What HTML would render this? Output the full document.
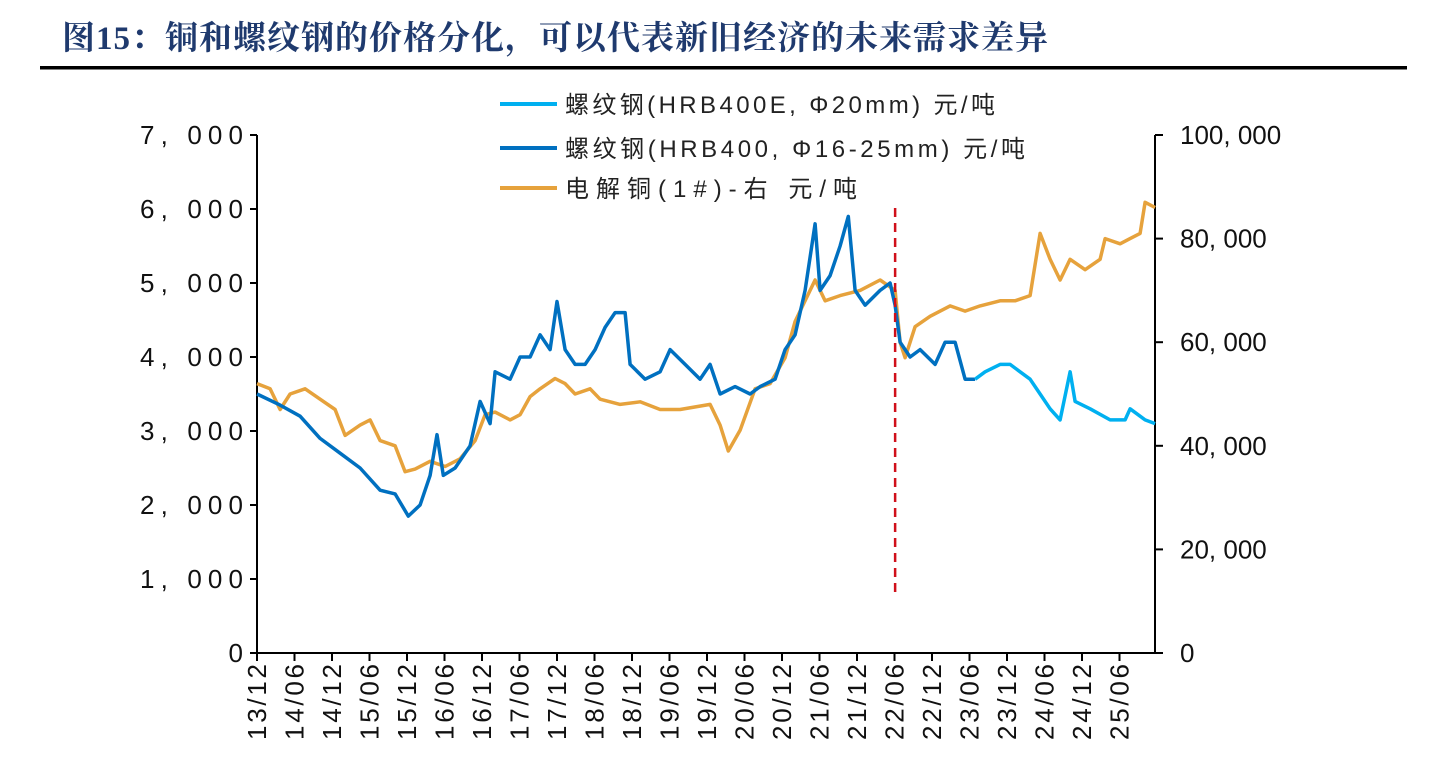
<!DOCTYPE html>
<html><head><meta charset="utf-8"><style>
body{margin:0;background:#fff;width:1442px;height:757px;overflow:hidden;font-family:"Liberation Sans","Noto Sans CJK SC",sans-serif}
</style></head><body>
<svg id="c" width="1442" height="757" xmlns="http://www.w3.org/2000/svg">
<text x="62" y="49" font-size="33" font-weight="bold" fill="#1f3a6e" letter-spacing="1" font-family="'Liberation Serif','Noto Serif CJK SC',serif">图15：铜和螺纹钢的价格分化，可以代表新旧经济的未来需求差异</text>
<rect x="40" y="66" width="1367" height="3.5" fill="#000"/>
<g id="axes"></g>
<g id="series"></g>
<g font-size="24" fill="#222">
<line x1="500" y1="104" x2="557" y2="104" stroke="#00b0f0" stroke-width="4"/>
<text x="565" y="113" textLength="430">螺纹钢(HRB400E, Φ20mm) 元/吨</text>
<line x1="500" y1="148" x2="557" y2="148" stroke="#0070c0" stroke-width="4"/>
<text x="565" y="157" textLength="460">螺纹钢(HRB400, Φ16-25mm) 元/吨</text>
<line x1="500" y1="188" x2="557" y2="188" stroke="#e6a23c" stroke-width="4"/>
<text x="565" y="197" textLength="292">电解铜(1#)-右 元/吨</text>
</g>
</svg>
<script>
const xTickLabels=["13/12","14/06","14/12","15/06","15/12","16/06","16/12","17/06","17/12","18/06","18/12","19/06","19/12","20/06","20/12","21/06","21/12","22/06","22/12","23/06","23/12","24/06","24/12","25/06"];
const leftTicks=[0,1000,2000,3000,4000,5000,6000,7000];
const rightTicks=[0,20000,40000,60000,80000,100000];
// months since 2013-12
const rebarT=[0,3.7,6.9,10.1,13.3,16.5,19.7,22.1,24.2,26.1,27.7,28.8,29.8,31.7,34.1,35.7,37.3,38.1,40.5,42.1,43.7,45.3,46.9,48,49.3,50.9,52.5,54.1,55.7,57.3,58.9,59.7,62.1,64.5,66.1,68.5,70.9,72.5,74.1,76.5,78.9,80.5,82.9,84.5,86.1,87.7,89.3,90.1,91.7,93.3,94.6,95.7,97.3,99.7,101.3,102.1,102.9,104.5,106.1,108.5,110.1,111.7,113.3,114.9];
const rebarV=[3500,3350,3200,2900,2700,2500,2200,2150,1850,2000,2400,2950,2400,2500,2800,3400,3100,3800,3700,4000,4000,4300,4100,4750,4100,3900,3900,4100,4400,4600,4600,3900,3700,3800,4100,3900,3700,3900,3500,3600,3500,3600,3700,4100,4300,4900,5800,4900,5100,5500,5900,4900,4700,4900,5000,4700,4200,4000,4100,3900,4200,4200,3700,3700];
const rebarET=[114.9,116.5,118.9,120.5,123.7,125.3,126.9,128.5,130.1,130.9,133.3,136.5,138.9,139.7,142.1,143.7];
const rebarEV=[3700,3800,3900,3900,3700,3500,3300,3150,3800,3400,3300,3150,3150,3300,3150,3100];
const copperT=[0,2.1,3.7,5.3,7.7,10.1,12.5,14.1,16.5,18.1,19.7,22.1,23.7,25.3,27.7,30.1,32.5,34.9,36.5,38.1,40.5,42.1,43.7,45.3,47.7,49.3,50.9,53.3,54.9,58.1,61.3,64.5,67.7,72.5,74.1,75.4,77.3,79.7,82.1,84.5,86.1,87.7,89.3,90.9,93.3,96.5,99.7,102.1,102.9,103.7,105.3,107.7,110.9,113.3,115.7,118.9,121.3,123.7,125.3,126.9,128.5,130.1,132.5,134.9,135.7,138.1,139.7,141.3,142.1,143.7];
const copperV=[52000,51000,47000,50000,51000,49000,47000,42000,44000,45000,41000,40000,35000,35500,37000,36000,37500,41000,46000,46500,45000,46000,49500,51000,53000,52000,50000,51000,49000,48000,48500,47000,47000,48000,44000,39000,43000,51000,52000,57000,64000,68000,72000,68000,69000,70000,72000,70000,60000,57000,63000,65000,67000,66000,67000,68000,68000,69000,81000,76000,72000,76000,74000,76000,80000,79000,80000,81000,87000,86000];
const dividerT=102.1;
const NS="http://www.w3.org/2000/svg";
const x0=257,x1=1155,yTop=135,yBot=653;
const xS=t=>x0+t*6.25;
const yL=v=>yBot-v/7000*(yBot-yTop);
const yR=v=>yBot-v/100000*(yBot-yTop);
function mk(tag,attrs,parent){const e=document.createElementNS(NS,tag);for(const k in attrs)e.setAttribute(k,attrs[k]);parent.appendChild(e);return e;}
const ax=document.getElementById('axes'), se=document.getElementById('series');
let l=mk('line',{x1:x0,y1:yTop,x2:x0,y2:yBot,stroke:'#000','stroke-width':2},ax);


l=mk('line',{x1:x1,y1:yTop,x2:x1,y2:yBot,stroke:'#000','stroke-width':2},ax);


l=mk('line',{x1:x0,y1:yBot,x2:x1,y2:yBot,stroke:'#000','stroke-width':2},ax);


const fmt=v=>v.toLocaleString('en-US').replace(',',', ');
leftTicks.forEach(v=>{const y=yL(v);
 const t=mk('line',{x1:x0-7,y1:y,x2:x0,y2:y,stroke:'#000','stroke-width':2},ax);
 
 
 const s=fmt(v);
 const a={x:243,y:y+9,'text-anchor':'end','font-size':26,fill:'#111'};
 if(s.length>3)a.textLength=103;
 const tx=mk('text',a,ax);
 tx.textContent=s;
 
 });
rightTicks.forEach(v=>{const y=yR(v);
 const t=mk('line',{x1:x1,y1:y,x2:x1+8,y2:y,stroke:'#000','stroke-width':2},ax);
 
 
 const tx=mk('text',{x:1180,y:y+9,'font-size':26,fill:'#111'},ax);
 tx.textContent=fmt(v);
 
 });
xTickLabels.forEach((s,i)=>{const x=xS(i*6);
 const t=mk('line',{x1:x,y1:yBot,x2:x,y2:yBot+8,stroke:'#000','stroke-width':2},ax);
 
 
 const tx=mk('text',{x:0,y:0,'text-anchor':'end','font-size':26,fill:'#111',textLength:76,transform:`translate(${x+9},${yBot+11}) rotate(-90)`},ax);
 tx.textContent=s;
 
 });
function line(T,V,ys,color,name){const p=T.map((t,i)=>xS(t).toFixed(1)+','+ys(V[i]).toFixed(1)).join(' ');
 const e=mk('polyline',{points:p,fill:'none',stroke:color,'stroke-width':3.5,'stroke-linejoin':'round'},se);
 
 }
line(copperT,copperV,yR,'#e6a23c','copper-line');
line(rebarT,rebarV,yL,'#0070c0','rebar-hrb400-line');
line(rebarET,rebarEV,yL,'#00b0f0','rebar-hrb400e-line');
const d=mk('line',{x1:xS(dividerT),y1:208,x2:xS(dividerT),y2:592,stroke:'#d0101a','stroke-width':2.5,'stroke-dasharray':'9,6'},se);


</script>
</body></html>
